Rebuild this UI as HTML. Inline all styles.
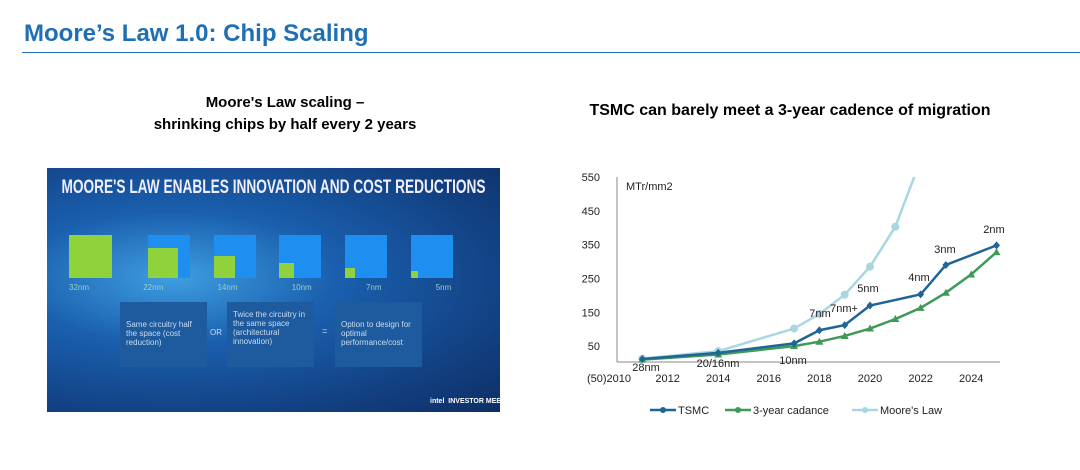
<!DOCTYPE html>
<html><head><meta charset="utf-8"><style>
body{margin:0;width:1080px;height:470px;background:#fff;font-family:"Liberation Sans",sans-serif;position:relative;overflow:hidden}
.abs{position:absolute}
</style></head><body>
<div class="abs" style="left:24px;top:20px;font-size:24px;font-weight:bold;color:#1f6fb4">Moore’s Law 1.0: Chip Scaling</div>
<div class="abs" style="left:22px;top:52px;width:1058px;height:1px;background:#1f6fb4"></div>
<div class="abs" style="left:110px;top:92px;width:350px;text-align:center;font-size:15px;font-weight:bold;line-height:22px">Moore's Law scaling –<br>shrinking chips by half every 2 years</div>
<div class="abs" style="left:560px;top:102px;width:460px;text-align:center;font-size:16px;font-weight:bold">TSMC can barely meet a 3-year cadence of migration</div>

<div class="abs" style="left:47px;top:168px;width:453px;height:244px;background:radial-gradient(ellipse at 28% 45%,#3f9ee0 0%,#1a5fae 35%,#123f80 75%,#0e2f66 100%);overflow:hidden">
 <div class="abs" style="left:-100px;top:9px;width:653px;text-align:center;color:#eef;font-size:19px;font-weight:bold;white-space:nowrap;transform:scaleX(0.72)">MOORE'S LAW ENABLES INNOVATION AND COST REDUCTIONS</div>
 <div class="abs" style="left:22px;top:67px;width:43px;height:43px;background:#8fd23c"></div>
 <div class="abs" style="left:101px;top:67px;width:42px;height:43px;background:#1e8ff0"></div><div class="abs" style="left:101px;top:80px;width:30px;height:30px;background:#8fd23c"></div>
 <div class="abs" style="left:167px;top:67px;width:42px;height:43px;background:#1e8ff0"></div><div class="abs" style="left:167px;top:88px;width:21px;height:22px;background:#8fd23c"></div>
 <div class="abs" style="left:232px;top:67px;width:42px;height:43px;background:#1e8ff0"></div><div class="abs" style="left:232px;top:95px;width:15px;height:15px;background:#8fd23c"></div>
 <div class="abs" style="left:298px;top:67px;width:42px;height:43px;background:#1e8ff0"></div><div class="abs" style="left:298px;top:100px;width:10px;height:10px;background:#8fd23c"></div>
 <div class="abs" style="left:364px;top:67px;width:42px;height:43px;background:#1e8ff0"></div><div class="abs" style="left:364px;top:103px;width:7px;height:7px;background:#8fd23c"></div>
 <div class="abs" style="left:22px;top:115px;width:400px;color:#9cc;font-size:8px;word-spacing:52px">32nm 22nm 14nm 10nm 7nm 5nm</div>
 <div class="abs" style="left:73px;top:134px;width:87px;height:65px;background:#1d5a9e;color:#cde;font-size:8px;padding:18px 6px 0;box-sizing:border-box">Same circuitry half the space (cost reduction)</div>
 <div class="abs" style="left:163px;top:160px;color:#cde;font-size:8px">OR</div>
 <div class="abs" style="left:180px;top:134px;width:87px;height:65px;background:#1d5a9e;color:#cde;font-size:8px;padding:8px 6px 0;box-sizing:border-box">Twice the circuitry in the same space (architectural innovation)</div>
 <div class="abs" style="left:275px;top:158px;color:#cde;font-size:9px">=</div>
 <div class="abs" style="left:288px;top:134px;width:87px;height:65px;background:#1d5a9e;color:#cde;font-size:8px;padding:18px 6px 0;box-sizing:border-box">Option to design for optimal performance/cost</div>
 <div class="abs" style="left:383px;top:230px;color:#fff;font-size:7px;font-weight:bold;white-space:nowrap">intel &nbsp;INVESTOR MEETING</div>
</div>

<svg class="abs" style="left:0;top:0" width="1080" height="470" id="chart"></svg>
<script>
const yTicks=[550,450,350,250,150,50];
const xTicks=[2010,2012,2014,2016,2018,2020,2022,2024];
const tsmcYears=[2011,2014,2017,2018,2019,2020,2022,2023,2025];
const tsmcVals=[12,30,58,97,112,170,203,290,348];
const cadYears=[2011,2014,2017,2018,2019,2020,2021,2022,2023,2024,2025];
const cadVals=[10,25,50,63,80,102,130,163,208,262,328];
const mooreYears=[2011,2014,2017,2018,2019,2020,2021,2022];
const mooreVals=[13,35,102,145,202,285,403,600];
const nodeLabels=["28nm","20/16nm","10nm","7nm","7nm+","5nm","4nm","3nm","2nm"];
const nodeX=[646,718,793,820,844,868,919,945,994];
const nodeY=[371,367,364,317,312,292,281,253,233];
const X=y=>617+(y-2010)*25.3, Y=v=>363-v*0.338;
const svg=document.getElementById('chart'),NS='http://www.w3.org/2000/svg';
function mk(t,a,p){const e=document.createElementNS(NS,t);for(const k in a)e.setAttribute(k,a[k]);(p||svg).appendChild(e);return e;}
const clip=mk('clipPath',{id:'c'});mk('rect',{x:600,y:177,width:420,height:200},clip);
let e=mk('line',{x1:617,y1:177,x2:617,y2:362,stroke:'#888'});

e=mk('line',{x1:617,y1:362,x2:1000,y2:362,stroke:'#888'});

yTicks.forEach(v=>{const t=mk('text',{x:600,y:Y(v)+4,'text-anchor':'end','font-size':11,fill:'#222'});t.textContent=v;
});
xTicks.forEach((v,i)=>{const t=mk('text',{x:X(v)+(i==0?-2:0),y:382,'text-anchor':'middle','font-size':11,fill:'#222'});t.textContent=i==0?'(50)2010':v;
if(i==0){t.setAttribute('text-anchor','end');t.setAttribute('x',X(v)+14);}
});
e=mk('text',{x:626,y:190,'font-size':11,fill:'#222'});e.textContent='MTr/mm2';

function series(xs,vs,col,name,marker){
 const g=mk('g',{'clip-path':'url(#c)'});
 
 mk('polyline',{points:xs.map((x,i)=>X(x)+','+Y(vs[i])).join(' '),fill:'none',stroke:col,'stroke-width':2.5},g);
 xs.forEach((x,i)=>{let m;
  if(marker=='c')m=mk('circle',{cx:X(x),cy:Y(vs[i]),r:4,fill:col},g);
  else if(marker=='t')m=mk('path',{d:`M${X(x)-4},${Y(vs[i])+3}L${X(x)+4},${Y(vs[i])+3}L${X(x)},${Y(vs[i])-4}Z`,fill:col},g);
  else m=mk('path',{d:`M${X(x)},${Y(vs[i])-4}L${X(x)+3.5},${Y(vs[i])}L${X(x)},${Y(vs[i])+4}L${X(x)-3.5},${Y(vs[i])}Z`,fill:col},g);
  });
}
series(mooreYears,mooreVals,'#a9d7e1','moores-law','c');
series(cadYears,cadVals,'#3f9a57','three-year-cadence','t');
series(tsmcYears,tsmcVals,'#1f6596','tsmc','d');
nodeLabels.forEach((l,i)=>{const t=mk('text',{x:nodeX[i],y:nodeY[i],'text-anchor':'middle','font-size':11,fill:'#222'});t.textContent=l;
});
[['TSMC','#1f6596',650],['3-year cadance','#3f9a57',725],["Moore's Law",'#a9d7e1',852]].forEach(([n,c,x])=>{
 const g=mk('g',{});
 mk('line',{x1:x,y1:410,x2:x+26,y2:410,stroke:c,'stroke-width':2.5},g);mk('circle',{cx:x+13,cy:410,r:3,fill:c},g);
 const t=mk('text',{x:x+28,y:414,'font-size':11,fill:'#222'},g);t.textContent=n;});
</script>
</body></html>
